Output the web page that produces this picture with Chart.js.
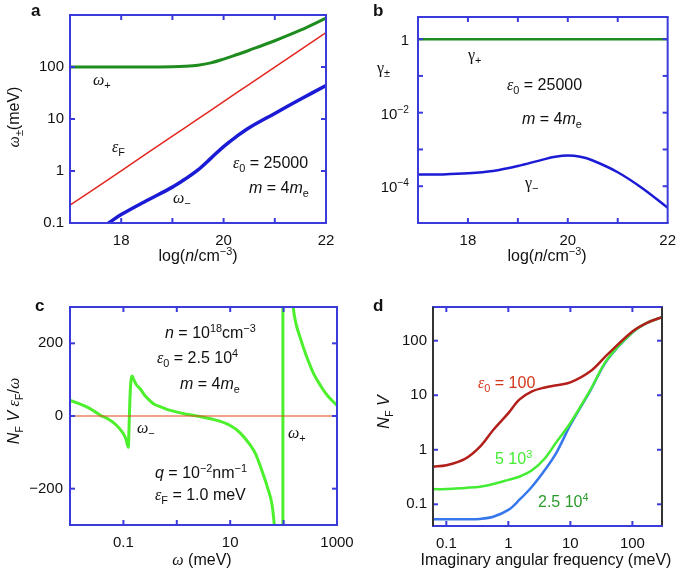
<!DOCTYPE html>
<html>
<head>
<meta charset="utf-8">
<script src="https://cdn.jsdelivr.net/npm/chart.js@4.4.0/dist/chart.umd.min.js"></script>
<style>
  body { margin: 0; background: #fff; }
  #wrap { position: relative; width: 685px; height: 571px; }
  canvas { position: absolute; left: 0; top: 0; }
</style>
</head>
<body>
<div id="wrap">
  <canvas id="ca" width="685" height="571"></canvas>
  <canvas id="cb" width="685" height="571"></canvas>
  <canvas id="cc" width="685" height="571"></canvas>
  <canvas id="cd" width="685" height="571"></canvas>
</div>
<script>
// DATI ---------------------------------
// pannello a : log(n/cm^-3) -> meV
var nLog = [17, 17.5, 18, 18.5, 19, 19.25, 19.5, 19.75, 20, 20.25, 20.5, 21, 21.5, 22];
var omegaPlus = [100, 100, 100, 100, 101, 103, 108, 120, 142, 172, 210, 320, 510, 870];
var epsF = [0.22, 0.47, 1.01, 2.18, 4.68, 6.86, 10.1, 14.7, 21.6, 31.7, 46.4, 99.6, 214, 460];
var nLogMinus = [17.75, 18, 18.5, 19, 19.25, 19.5, 19.75, 20, 20.25, 20.5, 21, 21.5, 22];
var omegaMinus = [0.1, 0.145, 0.27, 0.49, 0.7, 1.05, 1.75, 2.95, 4.6, 6.8, 12.8, 24, 44];
var aXTicks = [18, 20, 22];
var aYTicks = [0.1, 1, 10, 100];
var aYLabels = ['0.1', '1', '10', '100'];

// pannello b : gamma
var bLog = [17, 17.5, 18, 18.5, 19, 19.5, 19.75, 20, 20.25, 20.5, 21, 21.5, 22];
var gammaPlus = [1, 1, 1, 1, 1, 1, 1, 1, 1, 1, 1, 1, 1];
var gammaMinus = [2.07e-4, 2.1e-4, 2.24e-4, 2.6e-4, 3.55e-4, 5.3e-4, 6.3e-4, 6.8e-4, 6.3e-4, 5.0e-4, 2.4e-4, 8.7e-5, 2.6e-5];
var bYTicks = [1e-4, 1e-2, 1];
var bYExp = ['\u22124', '\u22122', ''];

// pannello c : NF V eF / w
var cOmegaL = [0.01, 0.0205, 0.03, 0.039, 0.05, 0.075, 0.1, 0.112, 0.124, 0.127, 0.132, 0.138, 0.146, 0.156, 0.175, 0.206, 0.25, 0.365, 0.5, 0.7, 1, 1.5, 2, 3, 5, 10, 15, 24, 30, 42, 50, 61, 67, 72];
var cValL = [43, 25, 11, 0, -7, -26, -49, -64, -86, -40, 40, 95, 110, 100, 86, 75, 57, 34, 25, 17, 11, 5, 2, -3, -10, -26, -45, -81, -105, -163, -197, -246, -300, -360];
var cPole = 97;
var cOmegaR = [140, 151, 170, 207, 260, 367, 500, 655, 1000];
var cValR = [360, 300, 255, 213, 170, 116, 82, 57, 29];
var cXTicks = [0.1, 10, 1000];
var cXLabels = ['0.1', '10', '1000'];
var cYTicks = [-200, 0, 200];
var cYLabels = ['\u2212200', '0', '200'];

// pannello d : NF V vs frequenza immaginaria
var dOmega = [0.061, 0.1, 0.2, 0.35, 0.57, 1, 1.5, 2.4, 3.9, 6, 10, 21, 39, 100, 172, 300];
var dEps100 = [0.49, 0.52, 0.68, 1.14, 2.3, 4.7, 8.3, 11.8, 13.9, 15.3, 17.2, 27.5, 55, 148, 213, 270];
var dEps5e3 = [0.19, 0.19, 0.2, 0.21, 0.235, 0.28, 0.32, 0.42, 0.7, 1.4, 3.1, 12.5, 45, 142, 212, 270];
var dEps25e3 = [0.053, 0.053, 0.053, 0.054, 0.059, 0.079, 0.12, 0.21, 0.43, 0.9, 2.85, 12.2, 44, 141, 212, 270];
var dTicks = [0.1, 1, 10, 100];
var dLabels = ['0.1', '1', '10', '100'];

// STILE -------------------------------
var sans = '"Liberation Sans", Arial, sans-serif';
var serif = '"Liberation Serif", "DejaVu Serif", serif';
var blu = '#3b3bdc';
var nero = '#111';
Chart.defaults.font.family = sans;
Chart.defaults.animation = false;

function T(t, f) { return { t: t, f: f || '' }; }

function fontFor(p, size) {
  var s = size;
  if (p.f.indexOf('d') >= 0 || p.f.indexOf('u') >= 0) s = size * 0.68;
  var st = (p.f.indexOf('i') >= 0 ? 'italic ' : '') + (p.f.indexOf('b') >= 0 ? 'bold ' : '');
  return st + s.toFixed(1) + 'px ' + (p.f.indexOf('s') >= 0 ? serif : sans);
}

function drawRich(ctx, it) {
  var size = it.size || 16;
  ctx.save();
  ctx.fillStyle = it.color || nero;
  ctx.textBaseline = 'alphabetic';
  ctx.textAlign = 'left';
  ctx.translate(it.x, it.y);
  if (it.rot) ctx.rotate(-Math.PI / 2);
  var w = 0;
  it.parts.forEach(function(p) { ctx.font = fontFor(p, size); w += ctx.measureText(p.t).width; });
  var x = it.align === 'center' ? -w / 2 : (it.align === 'right' ? -w : 0);
  it.parts.forEach(function(p) {
    ctx.font = fontFor(p, size);
    var dy = 0;
    if (p.f.indexOf('d') >= 0) dy = size * 0.28;
    if (p.f.indexOf('u') >= 0) dy = -size * 0.4;
    ctx.fillText(p.t, x, dy);
    x += ctx.measureText(p.t).width;
  });
  ctx.restore();
}

// cornice + tacche interne su tutti e quattro i lati
var framePlugin = {
  id: 'frame',
  afterDatasetsDraw: function(chart, args, o) {
    var a = chart.chartArea, ctx = chart.ctx;
    var xs = chart.scales.x, ys = chart.scales.y;
    function seg(x1, y1, x2, y2, c) {
      ctx.strokeStyle = c;
      ctx.beginPath(); ctx.moveTo(x1, y1); ctx.lineTo(x2, y2); ctx.stroke();
    }
    ctx.save();
    ctx.lineWidth = 2;
    o.xMarks.forEach(function(v) {
      var px = xs.getPixelForValue(v);
      seg(px, a.bottom, px, a.bottom - 5, blu);
      seg(px, a.top, px, a.top + 5, blu);
    });
    o.yMarks.forEach(function(v) {
      var py = ys.getPixelForValue(v);
      seg(a.left, py, a.left + 5, py, blu);
      seg(a.right, py, a.right - 5, py, blu);
    });
    // top, right, bottom, left
    seg(a.left - 1, a.top, a.right + 1, a.top, o.sides[0]);
    seg(a.right, a.top, a.right, a.bottom, o.sides[1]);
    seg(a.left - 1, a.bottom, a.right + 1, a.bottom, o.sides[2]);
    seg(a.left, a.top, a.left, a.bottom, o.sides[3]);
    ctx.restore();
    // etichette con esponente (pannello b)
    if (o.yExp) {
      ys.ticks.forEach(function(t, i) {
        var py = ys.getPixelForValue(t.value);
        var parts = o.yExp[i] ? [T('10'), T(o.yExp[i], 'u')] : [T('1')];
        drawRich(ctx, { x: a.left - 9, y: py + 6, size: 15, align: 'right', parts: parts });
      });
    }
  }
};

var richPlugin = {
  id: 'rich',
  afterDraw: function(chart, args, o) {
    o.items.forEach(function(it) { drawRich(chart.ctx, it); });
  }
};

function ds(xs, ys, color, w, mode) {
  return {
    data: xs.map(function(x, i) { return { x: x, y: ys[i] }; }),
    borderColor: color,
    borderWidth: w,
    pointRadius: 0,
    fill: false,
    cubicInterpolationMode: mode === 'mono' ? 'monotone' : 'default',
    tension: mode === 'line' ? 0 : 0.35
  };
}

function axis(type, min, max, vals, labels, size, pad) {
  return {
    type: type, min: min, max: max,
    grid: { display: false, drawTicks: false },
    border: { display: false },
    afterBuildTicks: function(s) { s.ticks = vals.map(function(v) { return { value: v }; }); },
    afterFit: function(s) {
      if (s.isHorizontal()) s.height = size; else s.width = size;
    },
    ticks: {
      autoSkip: false, maxRotation: 0, minRotation: 0, padding: pad,
      color: nero, font: { size: 15 },
      callback: function(v, i) { return labels ? labels[i] : ''; }
    }
  };
}

function makeChart(id, datasets, p) {
  return new Chart(document.getElementById(id), {
    type: 'line',
    data: { datasets: datasets },
    options: {
      responsive: false,
      devicePixelRatio: 1,
      animation: false,
      layout: { padding: p.pad },
      scales: { x: p.x, y: p.y },
      plugins: {
        legend: { display: false },
        tooltip: { enabled: false },
        frame: { xMarks: p.xMarks, yMarks: p.yMarks, sides: p.sides, yExp: p.yExp },
        rich: { items: p.items }
      }
    },
    plugins: [framePlugin, richPlugin]
  });
}

// PANNELLO A ---------------------------
makeChart('ca', [
  ds(nLog, omegaPlus, '#1e8c1e', 3),
  ds(nLog, epsF, '#e3261f', 1.5, 'line'),
  ds(nLogMinus, omegaMinus, '#1b1bd6', 3.5)
], {
  pad: { left: 10, top: 14, right: 359, bottom: 308 },
  x: axis('linear', 17, 22, aXTicks, ['18', '20', '22'], 40, 9),
  y: axis('logarithmic', 0.1, 1000, aYTicks, aYLabels, 60, 6),
  xMarks: [18, 19, 20, 21], yMarks: [1, 10, 100],
  sides: [blu, blu, blu, blu],
  items: [
    { x: 31, y: 16, size: 17, parts: [T('a', 'b')] },
    { x: 93, y: 85, parts: [T('\u03C9', 'si'), T('+', 'd')] },
    { x: 112, y: 152, parts: [T('\u03B5', 'si'), T('F', 'd')] },
    { x: 173, y: 203, parts: [T('\u03C9', 'si'), T('\u2212', 'd')] },
    { x: 233, y: 168, parts: [T('\u03B5', 'si'), T('0', 'd'), T(' = 25000')] },
    { x: 249, y: 193, parts: [T('m', 'i'), T(' = 4'), T('m', 'i'), T('e', 'd')] },
    { x: 19, y: 117, rot: true, align: 'center', parts: [T('\u03C9', 'si'), T('\u00B1', 'd'), T('(meV)')] },
    { x: 198, y: 261, align: 'center', parts: [T('log('), T('n', 'i'), T('/cm'), T('\u22123', 'u'), T(')')] }
  ]
});

// PANNELLO B ---------------------------
makeChart('cb', [
  ds(bLog, gammaPlus, '#1e8c1e', 2.5, 'line'),
  ds(bLog, gammaMinus, '#1b1bd6', 2.5)
], {
  pad: { left: 358, top: 12, right: 10, bottom: 308 },
  x: axis('linear', 17, 22, aXTicks, ['18', '20', '22'], 40, 9),
  y: axis('logarithmic', 1e-5, 4, bYTicks, null, 60, 8),
  yExp: bYExp,
  xMarks: [18, 19, 20, 21], yMarks: [1e-4, 1e-3, 1e-2, 0.1, 1],
  sides: [blu, blu, blu, blu],
  items: [
    { x: 373, y: 16, size: 17, parts: [T('b', 'b')] },
    { x: 468, y: 60, parts: [T('\u03B3', 's'), T('+', 'd')] },
    { x: 377, y: 73, parts: [T('\u03B3', 's'), T('\u00B1', 'd')] },
    { x: 507, y: 90, parts: [T('\u03B5', 'si'), T('0', 'd'), T(' = 25000')] },
    { x: 522, y: 124, parts: [T('m', 'i'), T(' = 4'), T('m', 'i'), T('e', 'd')] },
    { x: 525, y: 188, parts: [T('\u03B3', 's'), T('\u2212', 'd')] },
    { x: 547, y: 261, align: 'center', parts: [T('log('), T('n', 'i'), T('/cm'), T('\u22123', 'u'), T(')')] }
  ]
});

// PANNELLO C ---------------------------
makeChart('cc', [
  ds([0.01, 1000], [0, 0], '#e5441c', 1.2, 'line'),
  ds(cOmegaL, cValL, '#4cf02c', 3, 'mono'),
  ds([cPole, cPole], [-400, 400], '#4cf02c', 3, 'line'),
  ds(cOmegaR, cValR, '#4cf02c', 3, 'mono')
], {
  pad: { left: 10, top: 307, right: 348, bottom: 6 },
  x: axis('logarithmic', 0.01, 1000, cXTicks, cXLabels, 40, 9),
  y: axis('linear', -300, 300, cYTicks, cYLabels, 60, 7),
  xMarks: [0.1, 1, 10, 100], yMarks: [-200, 0, 200],
  sides: [blu, blu, blu, blu],
  items: [
    { x: 35, y: 311, size: 17, parts: [T('c', 'b')] },
    { x: 165, y: 338, parts: [T('n', 'i'), T(' = 10'), T('18', 'u'), T('cm'), T('\u22123', 'u')] },
    { x: 157, y: 363, parts: [T('\u03B5', 'si'), T('0', 'd'), T(' = 2.5 10'), T('4', 'u')] },
    { x: 180, y: 389, parts: [T('m', 'i'), T(' = 4'), T('m', 'i'), T('e', 'd')] },
    { x: 137, y: 433, parts: [T('\u03C9', 'si'), T('\u2212', 'd')] },
    { x: 288, y: 438, parts: [T('\u03C9', 'si'), T('+', 'd')] },
    { x: 155, y: 478, parts: [T('q', 'i'), T(' = 10'), T('\u22122', 'u'), T('nm'), T('\u22121', 'u')] },
    { x: 155, y: 500, parts: [T('\u03B5', 'si'), T('F', 'd'), T(' = 1.0 meV')] },
    { x: 19, y: 411, rot: true, align: 'center', parts: [T('N', 'i'), T('F', 'd'), T(' '), T('V', 'i'), T(' '), T('\u03B5', 'si'), T('F', 'd'), T('/'), T('\u03C9', 'si')] },
    { x: 202, y: 565, align: 'center', parts: [T('\u03C9', 'si'), T(' (meV)')] }
  ]
});

// PANNELLO D ---------------------------
makeChart('cd', [
  ds(dOmega, dEps100, '#b3201b', 2.5),
  ds(dOmega, dEps5e3, '#44ec33', 2.5),
  ds(dOmega, dEps25e3, '#3677ec', 2.5)
], {
  pad: { left: 373, top: 307, right: 23, bottom: 5 },
  x: axis('logarithmic', 0.061, 300, dTicks, dLabels, 40, 9),
  y: axis('logarithmic', 0.04, 415, dTicks, dLabels, 60, 6),
  xMarks: [0.1, 1, 10, 100], yMarks: [0.1, 1, 10, 100],
  sides: [blu, '#333', blu, '#333'],
  items: [
    { x: 373, y: 311, size: 17, parts: [T('d', 'b')] },
    { x: 478, y: 388, color: '#d2351c', parts: [T('\u03B5', 'si'), T('0', 'd'), T(' = 100')] },
    { x: 495, y: 464, color: '#44ec33', parts: [T('5 10'), T('3', 'u')] },
    { x: 538, y: 507, color: '#2b9a2b', parts: [T('2.5 10'), T('4', 'u')] },
    { x: 389, y: 412, rot: true, align: 'center', parts: [T('N', 'i'), T('F', 'd'), T(' '), T('V', 'i')] },
    { x: 546, y: 565, align: 'center', parts: [T('Imaginary angular frequency (meV)')] }
  ]
});
</script>
</body>
</html>
